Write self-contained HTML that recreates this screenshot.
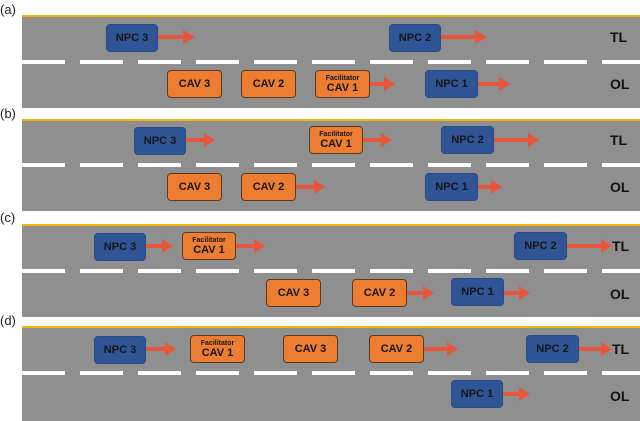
<!DOCTYPE html>
<html><head><meta charset="utf-8"><style>
body{margin:0;width:640px;height:419px;background:#fff;position:relative;overflow:hidden;font-family:"Liberation Sans",sans-serif}
.lbl{position:absolute;left:0;font-size:13px;color:#222}
.road{position:absolute;left:22px;width:618px;background:#8f8f8f;border-top:2px solid #f2b90c}
.dash{position:absolute;left:22px;width:618px;height:4px;background:repeating-linear-gradient(90deg,#fff 0 43px,transparent 43px 58px)}
.b{position:absolute;height:28px;border-radius:4px;display:flex;align-items:center;justify-content:center;flex-direction:column;font-weight:bold;font-size:11px;color:#161616;box-sizing:border-box;line-height:1}
.n{background:#2f5597;border:1px solid #2a4a85}
.c{background:#ed7d31;border:1px solid #5a3a20}
.c small{font-size:7px;display:block;margin-bottom:1px}
.t{position:absolute;font-weight:bold;font-size:14px;color:#111}
svg{position:absolute;left:0;top:0}
</style></head><body>
<div class="lbl" style="top:2px">(a)</div>
<div class="lbl" style="top:106px">(b)</div>
<div class="lbl" style="top:210px">(c)</div>
<div class="lbl" style="top:313px">(d)</div>

<div class="road" style="top:15px;height:91px"></div>
<div class="road" style="top:119px;height:90px"></div>
<div class="road" style="top:224px;height:91px"></div>
<div class="road" style="top:326px;height:93px"></div>
<div class="dash" style="top:60px"></div>
<div class="dash" style="top:163px"></div>
<div class="dash" style="top:269px"></div>
<div class="dash" style="top:371px"></div>

<svg width="640" height="419" fill="#e8553a">
<!-- arrows: shaft + head -->
<g id="a">
<path d="M158 35h25v-5l12 7-12 7v-5h-25z"/>
<path d="M441 35h34v-5l12 7-12 7v-5h-34z"/>
<path d="M370 82h14v-5l11 7-11 7v-5h-14z"/>
<path d="M478 82h21v-5l11 7-11 7v-5h-21z"/>
</g>
<path d="M186 138h18v-5l11 7-11 7v-5h-18z"/>
<path d="M363 138h18v-5l11 7-11 7v-5h-18z"/>
<path d="M494 138h34v-5l11 7-11 7v-5h-34z"/>
<path d="M296 185h18v-5l11 7-11 7v-5h-18z"/>
<path d="M478 185h13v-5l11 7-11 7v-5h-13z"/>
<path d="M146 244h16v-5l11 7-11 7v-5h-16z"/>
<path d="M236 244h18v-5l11 7-11 7v-5h-18z"/>
<path d="M567 244h34v-5l11 7-11 7v-5h-34z"/>
<path d="M407 291h16v-5l11 7-11 7v-5h-16z"/>
<path d="M504 291h15v-5l11 7-11 7v-5h-15z"/>
<path d="M146 347h19v-5l11 7-11 7v-5h-19z"/>
<path d="M424 347h23v-5l11 7-11 7v-5h-23z"/>
<path d="M579 347h22v-5l11 7-11 7v-5h-22z"/>
<path d="M503 392h16v-5l11 7-11 7v-5h-16z"/>
</svg>

<!-- (a) -->
<div class="b n" style="left:106px;top:24px;width:52px">NPC 3</div>
<div class="b n" style="left:389px;top:24px;width:52px">NPC 2</div>
<div class="b c" style="left:167px;top:70px;width:55px">CAV 3</div>
<div class="b c" style="left:241px;top:70px;width:55px">CAV 2</div>
<div class="b c" style="left:315px;top:70px;width:55px"><small>Facilitator</small>CAV 1</div>
<div class="b n" style="left:425px;top:70px;width:53px">NPC 1</div>
<div class="t" style="left:610px;top:29px">TL</div>
<div class="t" style="left:610px;top:76px">OL</div>
<!-- (b) -->
<div class="b n" style="left:134px;top:127px;width:52px">NPC 3</div>
<div class="b c" style="left:309px;top:126px;width:54px"><small>Facilitator</small>CAV 1</div>
<div class="b n" style="left:441px;top:126px;width:53px">NPC 2</div>
<div class="b c" style="left:167px;top:173px;width:55px">CAV 3</div>
<div class="b c" style="left:241px;top:173px;width:55px">CAV 2</div>
<div class="b n" style="left:425px;top:173px;width:53px">NPC 1</div>
<div class="t" style="left:610px;top:132px">TL</div>
<div class="t" style="left:610px;top:179px">OL</div>
<!-- (c) -->
<div class="b n" style="left:94px;top:233px;width:52px">NPC 3</div>
<div class="b c" style="left:182px;top:232px;width:54px"><small>Facilitator</small>CAV 1</div>
<div class="b n" style="left:514px;top:232px;width:53px">NPC 2</div>
<div class="b c" style="left:266px;top:279px;width:55px">CAV 3</div>
<div class="b c" style="left:352px;top:279px;width:55px">CAV 2</div>
<div class="b n" style="left:451px;top:278px;width:53px">NPC 1</div>
<div class="t" style="left:612px;top:238px">TL</div>
<div class="t" style="left:610px;top:286px">OL</div>
<!-- (d) -->
<div class="b n" style="left:94px;top:336px;width:52px">NPC 3</div>
<div class="b c" style="left:190px;top:335px;width:55px"><small>Facilitator</small>CAV 1</div>
<div class="b c" style="left:283px;top:335px;width:55px">CAV 3</div>
<div class="b c" style="left:369px;top:335px;width:55px">CAV 2</div>
<div class="b n" style="left:526px;top:335px;width:53px">NPC 2</div>
<div class="b n" style="left:451px;top:380px;width:52px">NPC 1</div>
<div class="t" style="left:612px;top:341px">TL</div>
<div class="t" style="left:610px;top:388px">OL</div>
</body></html>
